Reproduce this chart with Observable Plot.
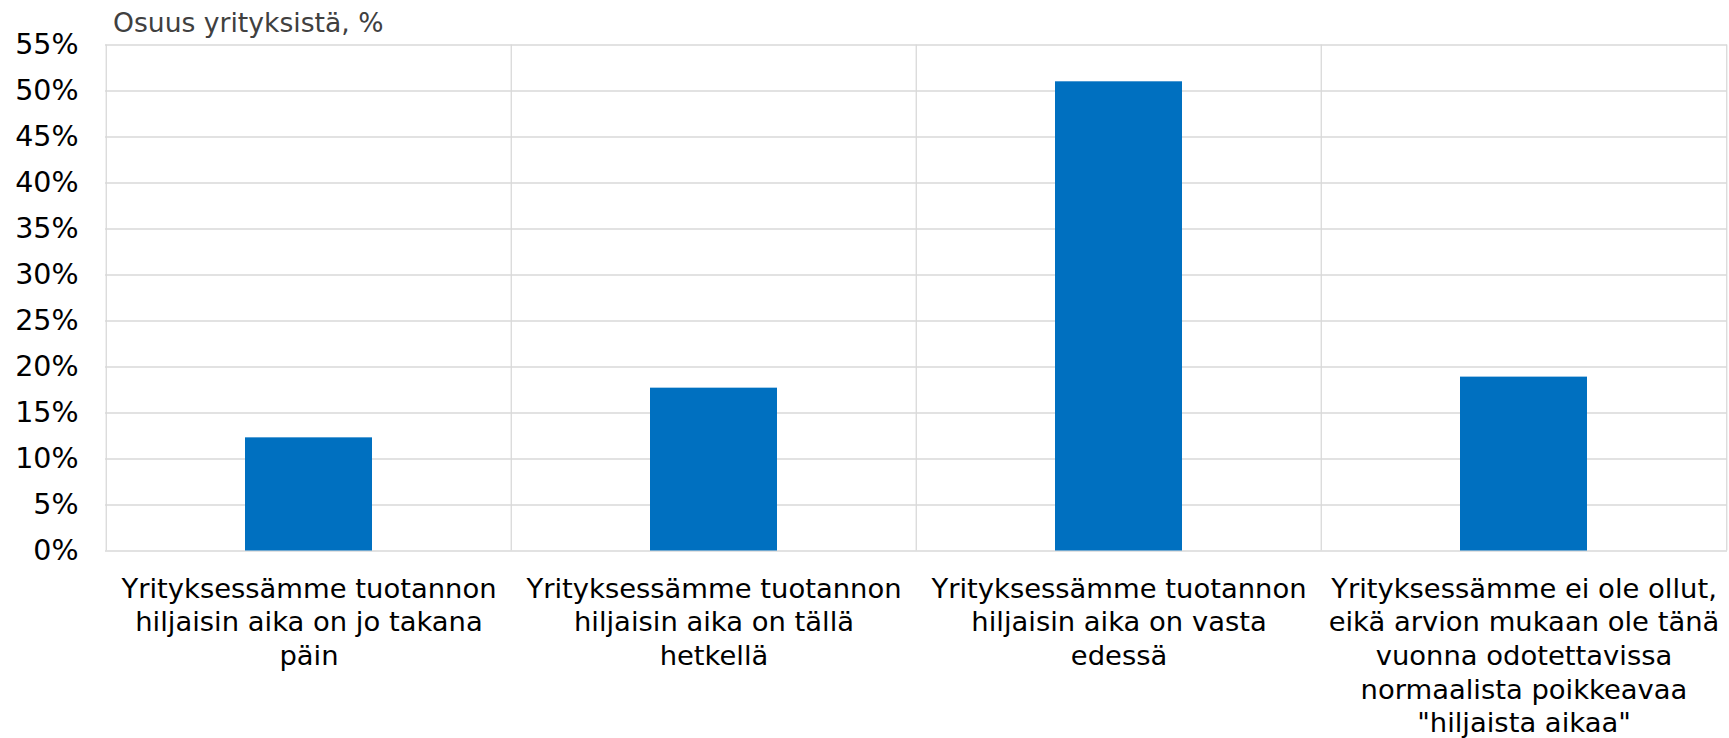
<!DOCTYPE html>
<html><head><meta charset="utf-8">
<script src="https://cdn.jsdelivr.net/npm/d3@7"></script>
<script src="https://cdn.jsdelivr.net/npm/@observablehq/plot@0.6"></script>
<style>
body{margin:0;background:#fff;font-family:"DejaVu Sans",sans-serif;}
#title{height:38px;box-sizing:border-box;padding-top:8px;padding-left:113px;line-height:30px;font-size:26.6px;color:#404040;white-space:nowrap;}
</style></head><body>
<div id="title">Osuus yrityksistä, %</div>
<div id="chart"></div>
<script>
const categories = [
  "Yrityksessämme tuotannon hiljaisin aika on jo takana päin",
  "Yrityksessämme tuotannon hiljaisin aika on tällä hetkellä",
  "Yrityksessämme tuotannon hiljaisin aika on vasta edessä",
  "Yrityksessämme ei ole ollut, eikä arvion mukaan ole tänä vuonna odotettavissa normaalista poikkeavaa \"hiljaista aikaa\""
];
const labelLines = [
  "Yrityksessämme tuotannon\nhiljaisin aika on jo takana\npäin",
  "Yrityksessämme tuotannon\nhiljaisin aika on tällä\nhetkellä",
  "Yrityksessämme tuotannon\nhiljaisin aika on vasta\nedessä",
  "Yrityksessämme ei ole ollut,\neikä arvion mukaan ole tänä\nvuonna odotettavissa\nnormaalista poikkeavaa\n\"hiljaista aikaa\""
];
const values = [12.3, 17.7, 51.0, 18.9];
const yTicks = d3.range(0, 56, 5);

const data = categories.map((c, i) => ({category: c, label: labelLines[i], value: values[i]}));

const W = 1729, H = 700, mL = 105, mR = 2, mT = 6.5, mB = 187.5;
const step = (W - mL - mR) / categories.length;
const grid = "#d9d9d9";

const chart = Plot.plot({
  width: W, height: H,
  marginLeft: mL, marginRight: mR, marginTop: mT, marginBottom: mB,
  style: {fontFamily: "DejaVu Sans, sans-serif", background: "#fff", color: "#000", overflow: "visible"},
  x: {type: "band", domain: categories, paddingInner: 0.6856, paddingOuter: 0.3428, axis: null},
  y: {domain: [0, 55], axis: null},
  marks: [
    Plot.gridY(yTicks, {stroke: grid, strokeOpacity: 1, strokeWidth: 1.3}),
    Plot.ruleX(categories, {x: d => d, dx: -step / 2, stroke: grid, strokeWidth: 1.3}),
    Plot.ruleX(categories.slice(-1), {x: d => d, dx: step / 2, stroke: grid, strokeWidth: 1.3}),
    Plot.barY(data, {x: "category", y: "value", fill: "#0070C0"}),
    Plot.axisY(yTicks, {label: null, tickFormat: d => d + "%", tickSize: 0, tickPadding: 27, fontSize: 28.5, fill: "#000"}),
    Plot.text(data, {x: "category", text: "label", frameAnchor: "bottom", lineAnchor: "top", dy: 22.6, fontSize: 27.4, lineHeight: 1.23, fill: "#000"})
  ]
});
document.getElementById("chart").appendChild(chart);
</script>
</body></html>
